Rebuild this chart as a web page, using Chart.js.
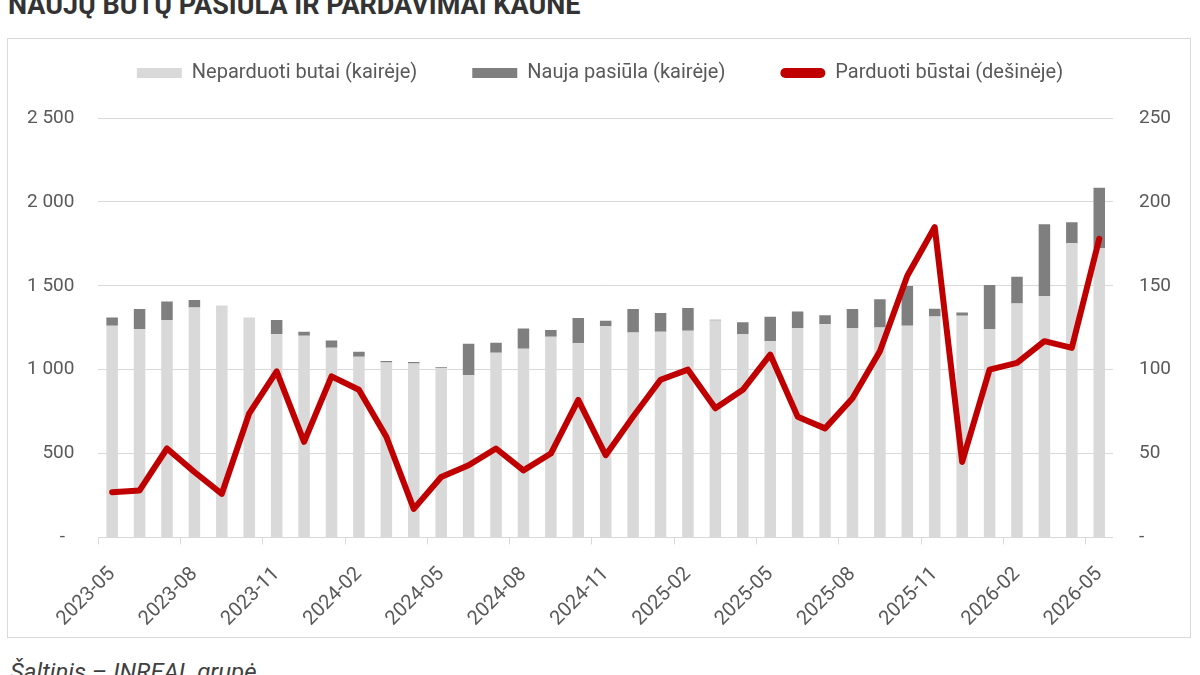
<!DOCTYPE html>
<html>
<head>
<meta charset="utf-8">
<script src="https://cdn.jsdelivr.net/npm/chart.js@4.4.1/dist/chart.umd.min.js"></script>
<style>
  html, body { margin: 0; padding: 0; background: #fff; }
  body { width: 1200px; height: 675px; position: relative; overflow: hidden; font-family: Roboto, sans-serif; }
  #title { position: absolute; left: 8px; top: -11px; font-size: 27px; font-weight: bold; color: #333; white-space: nowrap; }
  #frame { position: absolute; left: 7px; top: 38px; width: 1182px; height: 598px; border: 1px solid #d9d9d9; }
  #source { position: absolute; left: 10px; top: 658px; font-size: 24px; font-style: italic; color: #404040; white-space: nowrap; }
  #wrap { position: absolute; left: 0; top: 0; width: 1200px; height: 675px; }
</style>
</head>
<body>
<div id="title">NAUJŲ BUTŲ PASIŪLA IR PARDAVIMAI KAUNE</div>
<div id="frame"></div>
<div id="source">Šaltinis – INREAL grupė</div>
<div id="wrap"><canvas id="chart"></canvas></div>
<script>
// Chart data
const months = [
  '2023-05','2023-06','2023-07','2023-08','2023-09','2023-10','2023-11','2023-12',
  '2024-01','2024-02','2024-03','2024-04','2024-05','2024-06','2024-07','2024-08',
  '2024-09','2024-10','2024-11','2024-12','2025-01','2025-02','2025-03','2025-04',
  '2025-05','2025-06','2025-07','2025-08','2025-09','2025-10','2025-11','2025-12',
  '2026-01','2026-02','2026-03','2026-04','2026-05'
];
// unsold flats (left axis)
const unsold = [1262,1242,1296,1371,1383,1311,1212,1202,1131,1077,1042,1036,1008,968,1101,1125,
  1196,1157,1258,1222,1226,1232,1293,1212,1169,1248,1272,1248,1252,1262,1317,1321,1242,1395,1437,1754,1724];
// new supply (left axis, stacked on top)
const newSupply = [49,119,111,44,0,0,84,24,43,30,10,10,6,187,60,121,
  40,151,34,139,112,135,5,70,146,99,53,113,167,236,46,20,262,159,430,125,361];
// sold homes (right axis)
const sold = [27,28,53,39,26,74,99,57,96,88,60,17,36,43,53,40,
  50,82,49,72,94,100,77,88,109,72,65,83,111,156,185,45,100,104,117,113,178];

const leftTicks = [0, 500, 1000, 1500, 2000, 2500];
const rightTicks = [0, 50, 100, 150, 200, 250];

const textColor = '#595959';
const gridColor = '#d9d9d9';

function fmtThousands(v){
  if (v === 0) return '-  ';
  if (v >= 1000) return Math.floor(v/1000) + ' ' + String(v % 1000).padStart(3, '0');
  return String(v);
}

// push the plot area down under the widely spaced legend
const legendSpacer = {
  id: 'legendSpacer',
  afterInit(chart){
    const legend = chart.legend;
    const fit = legend.fit;
    legend.fit = function(){ fit.call(this); this.height += 25; };
  }
};

Chart.defaults.font.family = 'Roboto, sans-serif';
Chart.defaults.color = textColor;

new Chart(document.getElementById('chart'), {
  type: 'bar',
  data: {
    labels: months,
    datasets: [
      { label: 'Neparduoti butai (kairėje)', data: unsold, backgroundColor: '#d9d9d9',
        yAxisID: 'y', order: 1, categoryPercentage: 0.42, barPercentage: 1 },
      { label: 'Nauja pasiūla (kairėje)', data: newSupply, backgroundColor: '#7f7f7f',
        yAxisID: 'y', order: 1, categoryPercentage: 0.42, barPercentage: 1 },
      { type: 'line', label: 'Parduoti būstai (dešinėje)', data: sold, borderColor: '#c00000',
        backgroundColor: '#c00000', borderWidth: 6, pointRadius: 0, tension: 0,
        borderJoinStyle: 'round', borderCapStyle: 'round', yAxisID: 'y1', order: 0 }
    ]
  },
  options: {
    responsive: true,
    maintainAspectRatio: false,
    animation: false,
    layout: { autoPadding: false, padding: { top: 8, left: 3, right: 3, bottom: 26 } },
    plugins: {
      tooltip: { enabled: false },
      legend: {
        position: 'top',
        labels: {
          boxWidth: 45, boxHeight: 10, padding: 55,
          font: { size: 20 }, color: textColor,
          sort: (a, b) => a.datasetIndex - b.datasetIndex,
          useBorderRadius: true,
          generateLabels(chart){
            const items = Chart.defaults.plugins.legend.labels.generateLabels(chart);
            items.forEach(it => {
              it.lineWidth = 0;
              it.borderRadius = it.datasetIndex === 2 ? 5 : 0;
            });
            return items;
          }
        }
      }
    },
    scales: {
      x: {
        stacked: true,
        grid: {
          offset: true, drawOnChartArea: false, drawTicks: true, tickLength: 7,
          color: ctx => (ctx.index % 3 === 0 ? gridColor : 'rgba(0,0,0,0)')
        },
        border: { display: true, color: gridColor },
        ticks: {
          autoSkip: false, maxRotation: 45, minRotation: 45, padding: 18,
          font: { size: 20 }, color: textColor,
          callback: (v, i) => (i % 3 === 0 ? months[i] : '')
        }
      },
      y: {
        stacked: true, position: 'left', min: 0, max: 2500,
        afterBuildTicks: axis => { axis.ticks = leftTicks.map(v => ({ value: v })); },
        grid: { color: gridColor, drawTicks: false },
        border: { display: false },
        ticks: { padding: 24, font: { size: 19 }, color: textColor, callback: v => fmtThousands(v) }
      },
      y1: {
        position: 'right', min: 0, max: 250,
        afterBuildTicks: axis => { axis.ticks = rightTicks.map(v => ({ value: v })); },
        grid: { drawOnChartArea: false, drawTicks: false },
        border: { display: false },
        ticks: { padding: 26, font: { size: 19 }, color: textColor, callback: v => (v === 0 ? '-' : String(v)) }
      }
    }
  },
  plugins: [legendSpacer]
});
</script>
</body>
</html>
